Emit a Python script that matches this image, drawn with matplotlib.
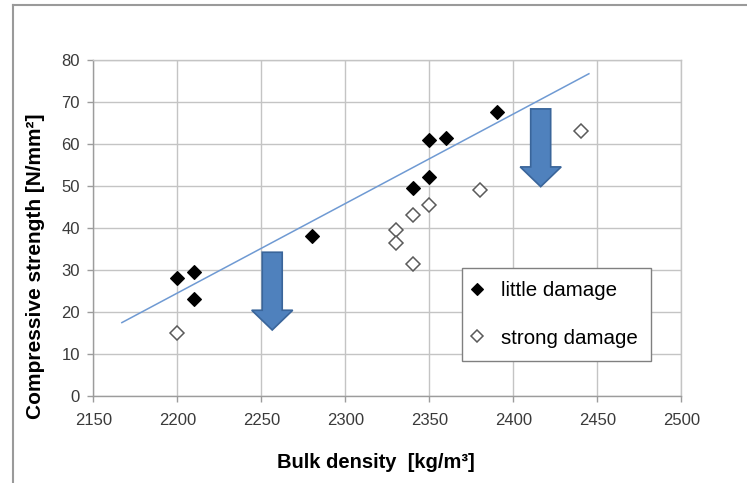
import numpy as np
import matplotlib
matplotlib.use("Agg")
import matplotlib.pyplot as plt
from matplotlib.patches import FancyArrow
from matplotlib.lines import Line2D

# Bulk density [kg/m3] and compressive strength [N/mm2]
little_density = [2200, 2210, 2210, 2280, 2340, 2350, 2350, 2360, 2390]
little_strength = [28.0, 29.5, 23.0, 38.0, 49.5, 61.0, 52.0, 61.4, 67.5]

strong_density = [2200, 2330, 2330, 2340, 2340, 2350, 2380, 2440]
strong_strength = [15.0, 39.4, 36.4, 43.0, 31.4, 45.4, 48.9, 63.0]

x_ticks = [2150, 2200, 2250, 2300, 2350, 2400, 2450, 2500]
y_ticks = [0, 10, 20, 30, 40, 50, 60, 70, 80]

series_labels = ["little damage", "strong damage"]

# linear trend of the "little damage" group, extended backward/forward
trend_backward = 33
trend_forward = 55

plt.rcParams["font.family"] = ["Liberation Sans", "DejaVu Sans"]

fig = plt.figure(figsize=(7.47, 4.83), dpi=100)
fig.patch.set_facecolor("white")

# outer frame of the figure panel (top and left edges)
fig.add_artist(Line2D([13 / 747, 1.0], [1 - 5 / 483, 1 - 5 / 483],
                      color="#9a9a9a", lw=1.5, transform=fig.transFigure))
fig.add_artist(Line2D([13 / 747, 13 / 747], [0.0, 1 - 5 / 483],
                      color="#9a9a9a", lw=1.5, transform=fig.transFigure))

ax = fig.add_axes([93.3 / 747, 1 - 396 / 483, 588 / 747, 336.3 / 483])

ax.set_xlim(x_ticks[0], x_ticks[-1])
ax.set_ylim(y_ticks[0], y_ticks[-1])
ax.set_xticks(x_ticks)
ax.set_yticks(y_ticks)
ax.grid(True, color="#c4c4c4", lw=1.0)
ax.set_axisbelow(True)
for side, sp in ax.spines.items():
    sp.set_color("#c4c4c4")
    sp.set_linewidth(1.0)
ax.spines["left"].set_color("#9c9c9c")
ax.spines["bottom"].set_color("#9c9c9c")
ax.tick_params(axis="both", direction="out", length=4, width=1.0,
               color="#9c9c9c", labelcolor="#3a3a3a", labelsize=12)
ax.tick_params(axis="x", pad=8.3)
ax.tick_params(axis="y", pad=5.5)

# trend line
slope, intercept = np.polyfit(little_density, little_strength, 1)
tx = np.array([min(little_density) - trend_backward,
               max(little_density) + trend_forward])
ax.plot(tx, slope * tx + intercept, color="#6f9ad3", lw=1.1, zorder=2)

# data points
ax.plot(little_density, little_strength, ls="none", marker="D", ms=7.0,
        mfc="black", mec="black", mew=0.8, zorder=4, label=series_labels[0])
ax.plot(strong_density, strong_strength, ls="none", marker="D", ms=7.0,
        mfc="white", mec="#5a5a5a", mew=1.1, zorder=4, label=series_labels[1])

# downward block arrows
arrow_style = dict(width=11.9, head_width=24.4, head_length=4.7,
                   length_includes_head=True, facecolor="#4f81bd",
                   edgecolor="#3a659a", lw=1.2, zorder=3)
ax.add_patch(FancyArrow(2256.5, 34.2, 0, -18.5, **arrow_style))
ax.add_patch(FancyArrow(2416.3, 68.3, 0, -18.5, **arrow_style))

leg = ax.legend(loc="upper left", bbox_to_anchor=(0.6265, 0.3797),
                frameon=True, fancybox=False, framealpha=1.0,
                edgecolor="#808080", fontsize=14.8, handlelength=0.25,
                handletextpad=1.05, labelspacing=1.38, borderpad=0.63,
                borderaxespad=0.0)
leg.get_frame().set_linewidth(1.0)
for h in leg.legend_handles:
    h.set_markersize(6.5)

fig.text(36 / 747, 1 - 266 / 483, "Compressive strength [N/mm²]",
         rotation=90, ha="center", va="center", fontsize=15,
         fontweight="bold", color="black")
fig.text(376 / 747, 1 - 463 / 483, "Bulk density  [kg/m³]",
         ha="center", va="center", fontsize=14.5, fontweight="bold",
         color="black")

fig.savefig("out.png", dpi=100, facecolor="white")
